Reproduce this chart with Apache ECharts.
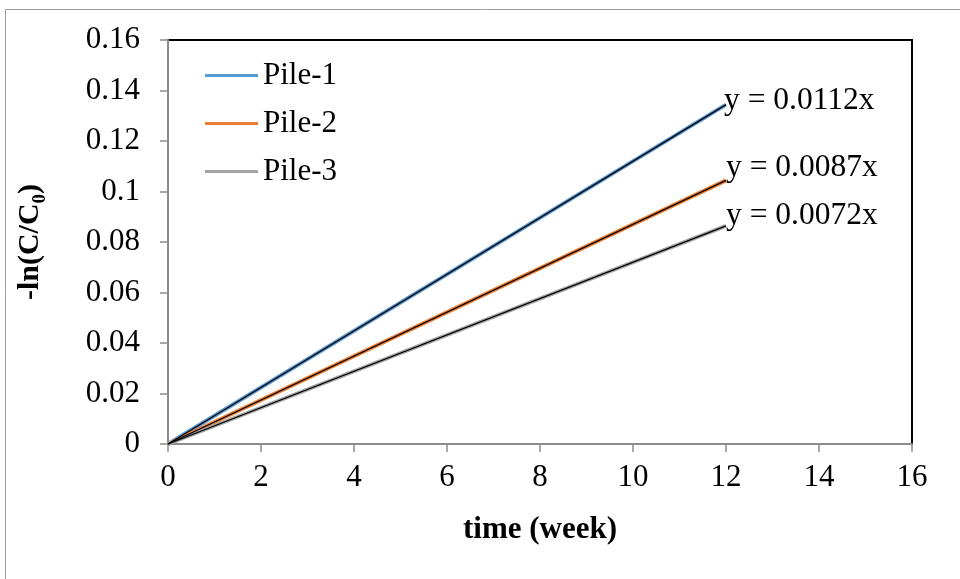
<!DOCTYPE html>
<html>
<head>
<meta charset="utf-8">
<script src="https://cdn.jsdelivr.net/npm/echarts@6/dist/echarts.min.js"></script>
<style>html,body{margin:0;padding:0;background:#fff}#c{width:960px;height:579px}</style>
</head>
<body>
<div id="c"></div>
<script>
// data
var seriesNames = ['Pile-1', 'Pile-2', 'Pile-3'];
var weeks = [0, 12];
var pile1 = [0, 0.1344];
var pile2 = [0, 0.1044];
var pile3 = [0, 0.0864];
var trendLabels = ['y = 0.0112x', 'y = 0.0087x', 'y = 0.0072x'];
var colors = ['#5B9BD5', '#ED7D31', '#A5A5A5'];

var font = '"Liberation Serif", "Times New Roman", serif';
var fs = 31;
var allData = [pile1, pile2, pile3];
var labelOffsets = [[-7, -4], [-5, -13], [-5, -10]];

function pts(arr) { return weeks.map(function (w, i) { return [w, arr[i]]; }); }

var series = [];
allData.forEach(function (d, i) {
  series.push({
    name: seriesNames[i], type: 'line', data: pts(d), symbol: 'none',
    lineStyle: { color: colors[i], width: 4 }, itemStyle: { color: colors[i] }, z: 2, silent: true
  });
});
allData.forEach(function (d, i) {
  series.push({
    name: 'trend' + i, type: 'line', data: pts(d), symbol: 'none',
    lineStyle: { color: '#000', width: 1.3 }, z: 3, silent: true,
    endLabel: { show: true, formatter: trendLabels[i], distance: 5, offset: labelOffsets[i],
      fontFamily: font, fontSize: 31.5, color: '#000' }
  });
});

var legendData = seriesNames.map(function (n) {
  return { name: n, textStyle: { fontFamily: font, fontSize: fs, color: '#000' } };
});

var chart = echarts.init(document.getElementById('c'), null, { renderer: 'canvas' });
chart.setOption({
  animation: false,
  backgroundColor: '#fff',
  textStyle: { fontFamily: font },
  grid: { left: 168, right: 48, top: 40, bottom: 135, show: true, borderColor: '#000', borderWidth: 2, backgroundColor: 'transparent' },
  legend: {
    data: legendData, orient: 'vertical', left: 200, top: 55, icon: 'rect', itemWidth: 53, itemHeight: 3, itemGap: 17,
    textStyle: { fontFamily: font, fontSize: fs, color: '#000' }
  },
  xAxis: {
    type: 'value', min: 0, max: 16, interval: 2,
    name: 'time (week)', nameLocation: 'middle', nameGap: 70,
    nameTextStyle: { fontFamily: font, fontSize: 31, fontWeight: 'bold', color: '#000' },
    axisLine: { show: true, onZero: false, lineStyle: { color: '#8c8c8c', width: 2 } },
    axisTick: { show: true, length: 8, lineStyle: { color: '#8c8c8c', width: 1.5 } },
    axisLabel: { fontFamily: font, fontSize: fs, color: '#000', margin: 18 },
    splitLine: { show: false }
  },
  yAxis: {
    type: 'value', min: 0, max: 0.16, interval: 0.02,
    name: '{a|-ln(C/C}{s|0}{a|)}', nameLocation: 'middle', nameGap: 118, nameRotate: 90,
    nameTextStyle: {
      rich: {
        a: { fontFamily: font, fontSize: 30, fontWeight: 'bold', color: '#000', lineHeight: 40, verticalAlign: 'middle' },
        s: { fontFamily: font, fontSize: 19, fontWeight: 'bold', color: '#000', lineHeight: 40, verticalAlign: 'bottom' }
      }
    },
    axisLine: { show: true, onZero: false, lineStyle: { color: '#8c8c8c', width: 2 } },
    axisTick: { show: true, length: 8, lineStyle: { color: '#8c8c8c', width: 1.5 } },
    axisLabel: { fontFamily: font, fontSize: fs, color: '#000', margin: 28,
      formatter: function (v) { return String(+v.toFixed(2)); } },
    splitLine: { show: false }
  },
  graphic: [{
    type: 'rect', shape: { x: 5.5, y: 9.5, width: 1000, height: 1000 },
    style: { fill: 'none', stroke: '#9a9a9a', lineWidth: 1 }, z: -10, silent: true
  }],
  series: series
});
</script>
</body>
</html>
